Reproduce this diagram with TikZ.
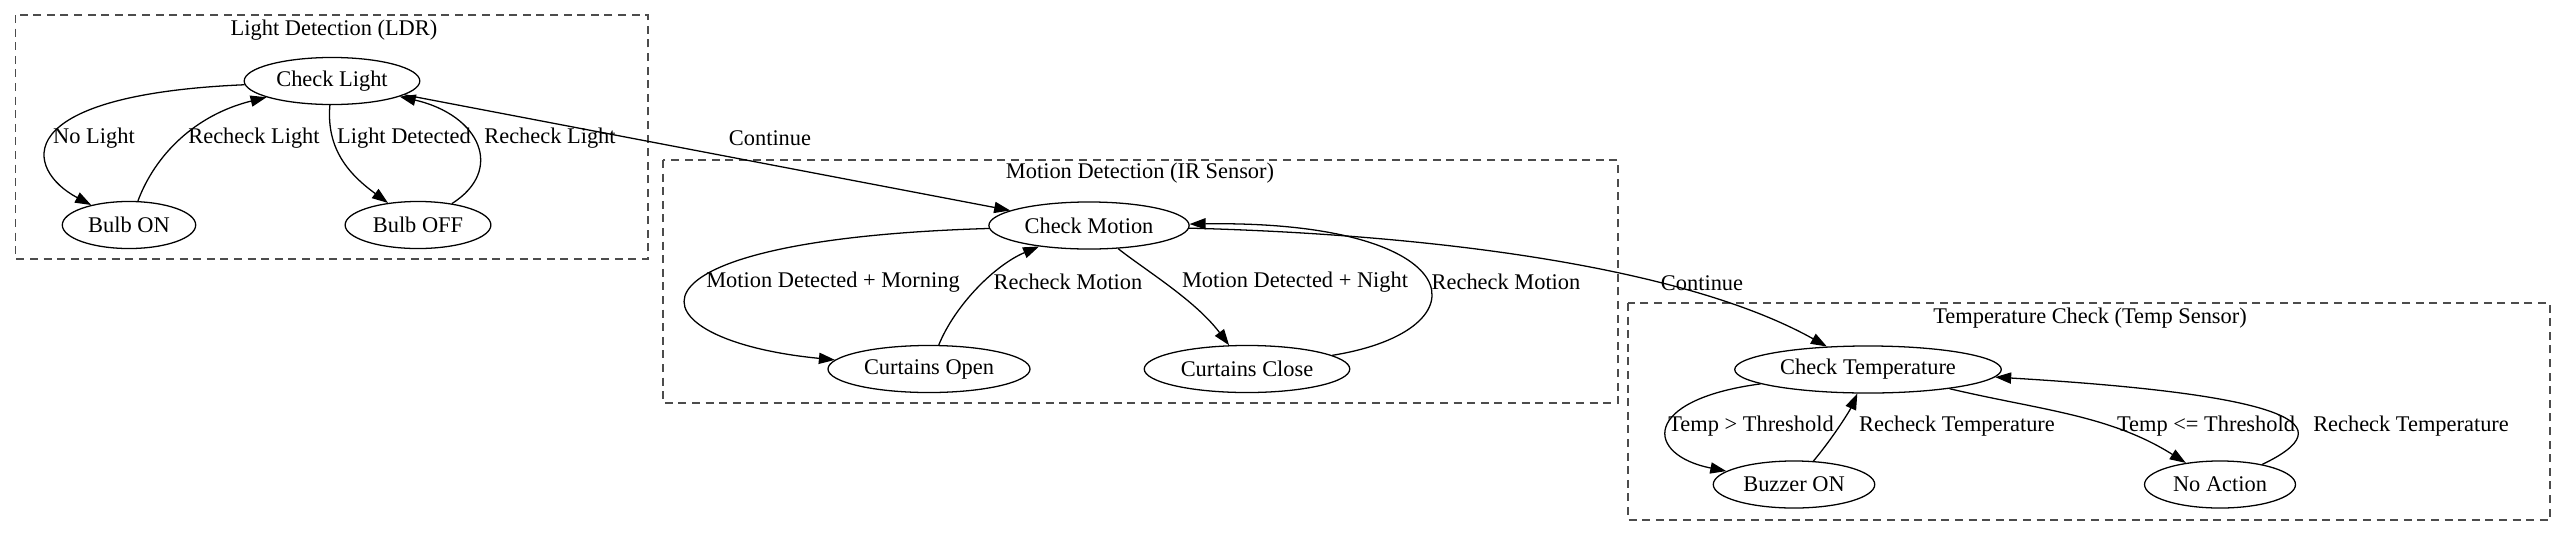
\documentclass[tikz,border=0pt]{standalone}
\usepackage{fontspec}
\setmainfont{Liberation Serif}
\usetikzlibrary{shapes.geometric,arrows.meta}

\begin{document}
\begin{tikzpicture}[x=0.625pt, y=-0.625pt,
    every node/.style={font=\fontsize{14}{16}\selectfont},
    state/.style={draw, ellipse, line width=0.8pt, inner xsep=4pt, inner ysep=0pt, minimum height=29.4pt},
    edge/.style={-{Triangle[length=10pt,width=7pt]}, line width=0.8pt},
    elabel/.style={inner sep=0pt},
    cluster/.style={draw=black!70, dash pattern=on 5pt off 3.5pt, line width=0.8pt}]
    \useasboundingbox (0,0) rectangle (2568,536);

    % Cluster boxes
    \draw[cluster] (15.6,15) rectangle (648,259);
    \draw[cluster] (663,160) rectangle (1618,403);
    \draw[cluster] (1628,303) rectangle (2550,520);
    \node (ldrtitle) at (334,30) {Light Detection (LDR)};
    \node (irtitle) at (1140,173) {Motion Detection (IR Sensor)};
    \node (temptitle) at (2090,318) {Temperature Check (Temp Sensor)};

    % Light states
    \node[state] (chklight) at (332,81) {Check Light};
    \node[state] (bulbon) at (129,225) {Bulb ON};
    \node[state] (bulboff) at (418,225) {Bulb OFF};

    % Motion states
    \node[state] (chkmotion) at (1089,225.5) {Check Motion};
    \node[state] (curopen) at (929,369) {Curtains Open};
    \node[state] (curclose) at (1247,369) {Curtains Close};

    % Temperature states
    \node[state] (chktemp) at (1868,369.5) {Check Temperature};
    \node[state] (buzzer) at (1794,484.5) {Buzzer ON};
    \node[state] (noaction) at (2220,484.5) {No Action};

    % Light transitions
    \draw[edge] (chklight) .. controls (5,95) and (25,170) .. (bulbon)
        node[elabel, at={(94,138)}] (lnolight) {No Light};
    \draw[edge] (bulbon) .. controls (155,155) and (195,115) .. (chklight)
        node[elabel, at={(254,138)}] (lrecheckon) {Recheck Light};
    \draw[edge] (chklight) .. controls (326,150) and (350,175) .. (bulboff)
        node[elabel, at={(404,138)}] (ldetected) {Light Detected};
    \draw[edge] (bulboff) .. controls (505,170) and (480,115) .. (chklight)
        node[elabel, at={(550,138)}] (lrecheckoff) {Recheck Light};
    \draw[edge] (chklight) -- (chkmotion)
        node[elabel, at={(770,138)}] (lcont1) {Continue};

    % Motion transitions
    \draw[edge] (chkmotion) .. controls (600,240) and (630,340) .. (curopen)
        node[elabel, at={(833,282)}] (lmorning) {Motion Detected + Morning};
    \draw[edge] (curopen) .. controls (955,305) and (995,265) .. (chkmotion)
        node[elabel, at={(1068,282)}] (lrecheckopen) {Recheck Motion};
    \draw[edge] (chkmotion) .. controls (1145,270) and (1195,300) .. (curclose)
        node[elabel, at={(1295,282)}] (lnight) {Motion Detected + Night};
    \draw[edge] (curclose) .. controls (1490,330) and (1470,220) .. (chkmotion)
        node[elabel, at={(1506,282)}] (lrecheckclose) {Recheck Motion};
    \draw[edge] (chkmotion) .. controls (1450,235) and (1690,270) .. (chktemp)
        node[elabel, at={(1702,283)}] (lcont2) {Continue};

    % Temperature transitions
    \draw[edge] (chktemp) .. controls (1640,400) and (1645,455) .. (buzzer)
        node[elabel, at={(1751,426)}] (lhigh) {Temp > Threshold};
    \draw[edge] (buzzer) .. controls (1835,435) and (1850,410) .. (chktemp)
        node[elabel, at={(1957,426)}] (lrecheckbuz) {Recheck Temperature};
    \draw[edge] (chktemp) .. controls (2040,410) and (2110,415) .. (noaction)
        node[elabel, at={(2206,426)}] (llow) {Temp <= Threshold};
    \draw[edge] (noaction) .. controls (2345,425) and (2295,395) .. (chktemp)
        node[elabel, at={(2411,426)}] (lrecheckno) {Recheck Temperature};

\end{tikzpicture}
\end{document}
